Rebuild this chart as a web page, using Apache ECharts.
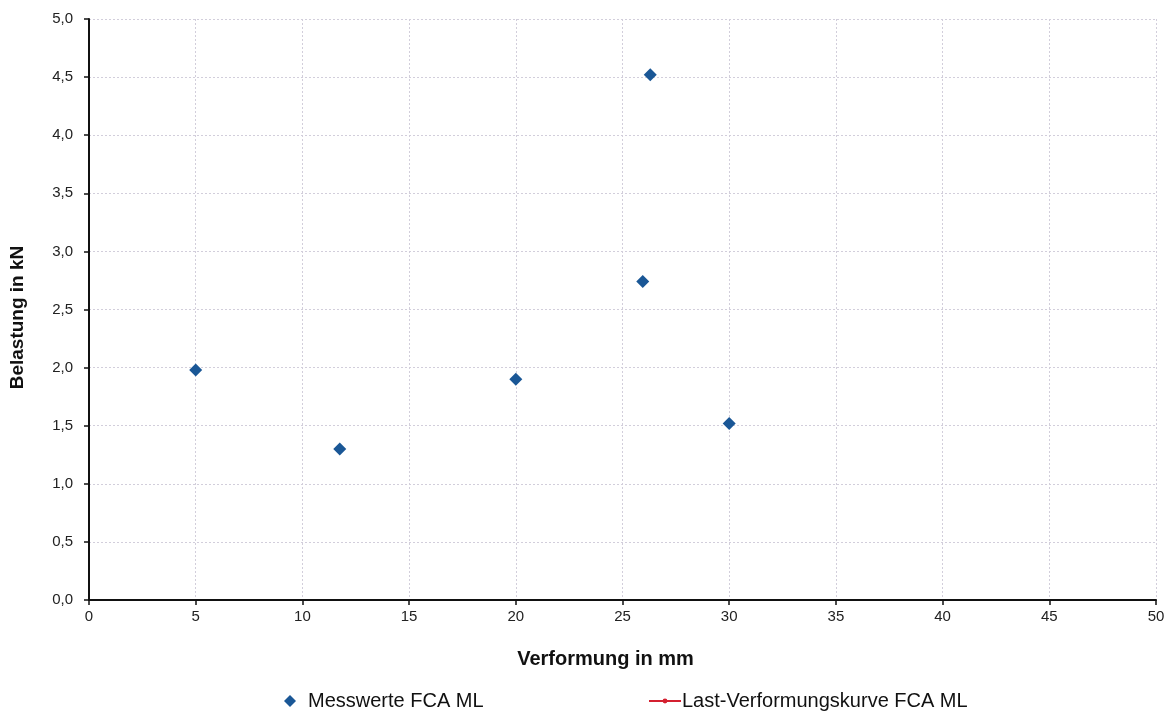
<!DOCTYPE html>
<html><head><meta charset="utf-8">
<script src="https://cdn.jsdelivr.net/npm/echarts@6/dist/echarts.min.js"></script>
<style>html,body{margin:0;padding:0;background:#fff}#c{width:1175px;height:712px}</style>
</head><body><div id="c"></div>
<script>
const verformung = [5.0, 11.75, 20.0, 25.95, 26.3, 30.0];
const belastung  = [1.98, 1.30, 1.90, 2.74, 4.52, 1.52];
const kurveX = [];
const kurveY = [];
const xTicks = [0, 5, 10, 15, 20, 25, 30, 35, 40, 45, 50];
const yTicks = [0, 0.5, 1, 1.5, 2, 2.5, 3, 3.5, 4, 4.5, 5];

const font = 'Liberation Sans, Arial, sans-serif';
const chart = echarts.init(document.getElementById('c'), null, {renderer: 'canvas'});
chart.setOption({
  animation: false,
  textStyle: {fontFamily: font},
  grid: {left: 89, right: 19, top: 19, bottom: 112, containLabel: false, outerBoundsMode: 'none'},
  xAxis: {
    type: 'value', min: xTicks[0], max: xTicks[xTicks.length - 1], interval: 5,
    name: 'Verformung in mm', nameLocation: 'middle', nameGap: 49,
    nameTextStyle: {fontSize: 20, fontWeight: 'bold', color: '#111', fontFamily: font, padding: [0, 34, 0, 0]},
    axisLine: {onZero: false, lineStyle: {color: '#111', width: 2}},
    axisTick: {show: true, inside: false, length: 5, lineStyle: {color: '#111', width: 1.5}},
    axisLabel: {fontSize: 15, color: '#222', margin: 9, fontFamily: font},
    splitLine: {show: true, lineStyle: {color: '#d2cedb', type: [2, 2], width: 1}}
  },
  yAxis: {
    type: 'value', min: yTicks[0], max: yTicks[yTicks.length - 1], interval: 0.5,
    name: 'Belastung in kN', nameLocation: 'middle', nameGap: 62, nameRotate: 90,
    nameTextStyle: {fontSize: 19, fontWeight: 'bold', color: '#111', fontFamily: font, padding: [0, 16, 0, 0]},
    axisLine: {show: true, onZero: false, lineStyle: {color: '#111', width: 2}},
    axisTick: {show: true, inside: false, length: 5, lineStyle: {color: '#111', width: 1.5}},
    axisLabel: {fontSize: 15, color: '#222', margin: 16, fontFamily: font,
      formatter: v => v.toFixed(1).replace('.', ',')},
    splitLine: {show: true, lineStyle: {color: '#d2cedb', type: [2, 2], width: 1}}
  },
  legend: [
    {left: 279, top: 686, itemWidth: 12, itemHeight: 12, itemGap: 10,
     data: [{name: 'Messwerte FCA ML', icon: 'diamond'}],
     textStyle: {fontSize: 20, color: '#111', fontFamily: font, padding: [0, 0, 0, 7]}},
    {left: 643, top: 686, itemWidth: 32, itemHeight: 6,
     data: [{name: 'Last-Verformungskurve FCA ML'}],
     textStyle: {fontSize: 20, color: '#111', fontFamily: font, padding: [0, 0, 0, -4]}}
  ],
  series: [
    {name: 'Messwerte FCA ML', type: 'scatter', symbol: 'diamond', symbolSize: 13,
     itemStyle: {color: '#1a5796', opacity: 1},
     data: verformung.map((x, i) => [x, belastung[i]])},
    {name: 'Last-Verformungskurve FCA ML', type: 'line', symbol: 'circle', symbolSize: 3,
     itemStyle: {color: '#d42030'}, lineStyle: {color: '#d42030', width: 2},
     data: kurveX.map((x, i) => [x, kurveY[i]])}
  ]
});
</script></body></html>
